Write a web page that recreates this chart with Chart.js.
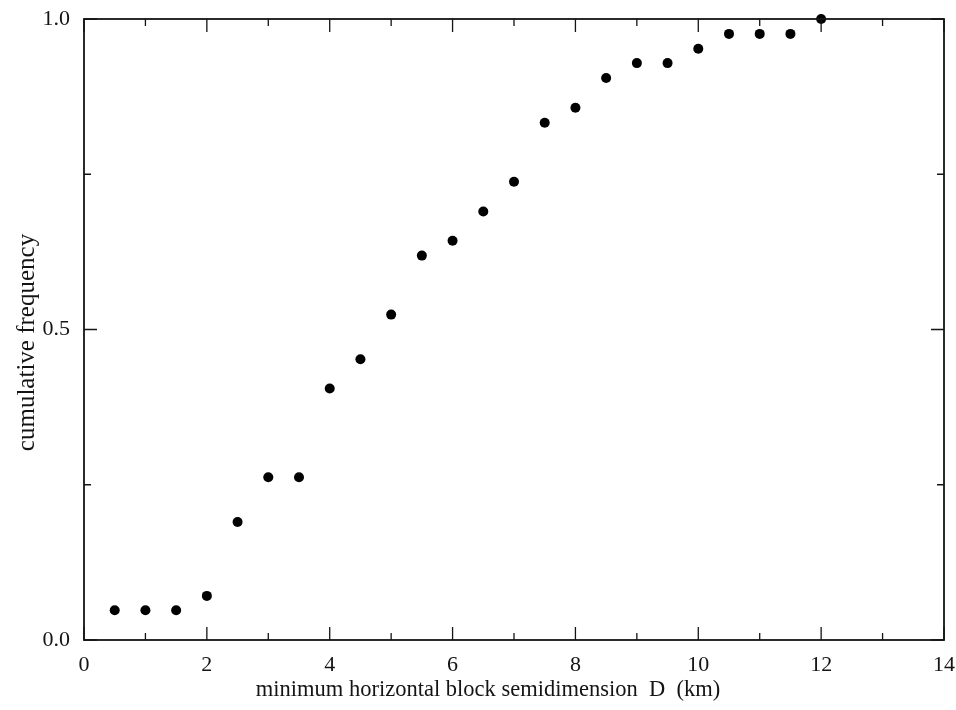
<!DOCTYPE html>
<html>
<head>
<meta charset="utf-8">
<script src="https://cdn.jsdelivr.net/npm/chart.js@4"></script>
<style>
  html, body { margin: 0; padding: 0; background: #fff; }
  #wrap { width: 956px; height: 710px; }
</style>
</head>
<body>
<div id="wrap"><canvas id="cdf"></canvas></div>
<script>
// minimum horizontal block semidimension D (km)
const dValues = [0.5, 1.0, 1.5, 2.0, 2.5, 3.0, 3.5, 4.0, 4.5, 5.0, 5.5, 6.0,
                 6.5, 7.0, 7.5, 8.0, 8.5, 9.0, 9.5, 10.0, 10.5, 11.0, 11.5, 12.0];
// cumulative frequency
const cumFreq = [0.048, 0.048, 0.048, 0.071, 0.190, 0.262, 0.262, 0.405, 0.452, 0.524, 0.619, 0.643,
                 0.690, 0.738, 0.833, 0.857, 0.905, 0.929, 0.929, 0.952, 0.976, 0.976, 0.976, 1.0];
const xLabelled = [0, 2, 4, 6, 8, 10, 12, 14];
const yLabelled = [0, 0.5, 1];
const xTitle = 'minimum horizontal block semidimension  D  (km)';
const yTitle = 'cumulative frequency';

const serif = '"Liberation Serif", "DejaVu Serif", serif';
const ink = '#141414';

// frame + inward ticks on all four sides, plus the axis titles
// (titles sit a bit off-centre in the original, so they're drawn by hand)
const frameTicks = {
  id: 'frameTicks',
  afterDraw(chart) {
    const { ctx, chartArea: a, scales } = chart;
    ctx.save();
    ctx.strokeStyle = ink;
    ctx.lineWidth = 1.8;
    ctx.strokeRect(a.left, a.top, a.right - a.left, a.bottom - a.top);

    ctx.lineWidth = 1.3;
    scales.x.ticks.forEach(t => {
      const px = scales.x.getPixelForValue(t.value);
      const len = xLabelled.includes(t.value) ? 13 : 7;
      ctx.beginPath();
      ctx.moveTo(px, a.bottom); ctx.lineTo(px, a.bottom - len);
      ctx.moveTo(px, a.top); ctx.lineTo(px, a.top + len);
      ctx.stroke();
    });
    scales.y.ticks.forEach(t => {
      const py = scales.y.getPixelForValue(t.value);
      const len = yLabelled.includes(t.value) ? 13 : 7;
      ctx.beginPath();
      ctx.moveTo(a.left, py); ctx.lineTo(a.left + len, py);
      ctx.moveTo(a.right, py); ctx.lineTo(a.right - len, py);
      ctx.stroke();
    });

    ctx.fillStyle = ink;
    ctx.textAlign = 'center';
    ctx.textBaseline = 'middle';
    ctx.font = '22.5px ' + serif;
    ctx.fillText(xTitle, (a.left + a.right) / 2 - 26, 690);

    ctx.translate(27, (a.top + a.bottom) / 2 + 13);
    ctx.rotate(-Math.PI / 2);
    ctx.font = '25px ' + serif;
    ctx.fillText(yTitle, 0, 0);
    ctx.restore();
  }
};

// keep edge labels from pushing the plot area inwards
const noLabelPad = s => { s.paddingTop = 0; s.paddingBottom = 0; s.paddingLeft = 0; s.paddingRight = 0; };

new Chart(document.getElementById('cdf'), {
  type: 'scatter',
  data: {
    datasets: [{
      data: dValues.map((d, i) => ({ x: d, y: cumFreq[i] })),
      pointRadius: 5,
      pointHoverRadius: 5,
      backgroundColor: '#000',
      borderColor: '#000',
      borderWidth: 0,
      clip: false
    }]
  },
  options: {
    responsive: true,
    maintainAspectRatio: false,
    animation: false,
    layout: { padding: { left: 0, right: 12, top: 19, bottom: 0 } },
    plugins: { legend: { display: false }, tooltip: { enabled: false } },
    scales: {
      x: {
        type: 'linear',
        min: 0, max: 14,
        border: { display: false },
        grid: { display: false, drawTicks: false },
        ticks: {
          stepSize: 1,
          autoSkip: false,
          maxRotation: 0,
          padding: 12,
          color: ink,
          font: { family: serif, size: 22 },
          callback: v => xLabelled.includes(v) ? String(v) : ''
        },
        title: { display: false },
        afterFit: s => { s.height = 70; noLabelPad(s); }
      },
      y: {
        type: 'linear',
        min: 0, max: 1,
        border: { display: false },
        grid: { display: false, drawTicks: false },
        ticks: {
          stepSize: 0.25,
          autoSkip: false,
          padding: 14,
          color: ink,
          font: { family: serif, size: 22 },
          callback: v => yLabelled.includes(v) ? v.toFixed(1) : ''
        },
        title: { display: false },
        afterFit: s => { s.width = 84; noLabelPad(s); }
      }
    }
  },
  plugins: [frameTicks]
});
</script>
</body>
</html>
